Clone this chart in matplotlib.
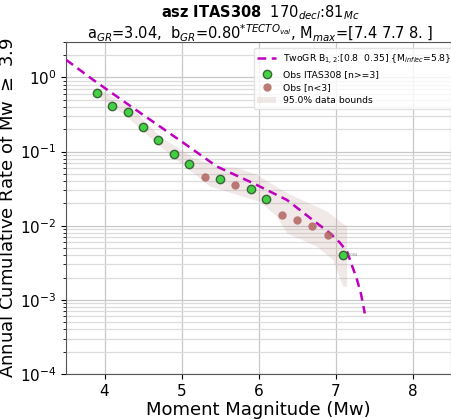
import numpy as np
import matplotlib
matplotlib.use('Agg')
import matplotlib.pyplot as plt

###########################################################
###              Data
###########################################################
mag_obs = [3.9, 4.1, 4.3, 4.5, 4.7, 4.9, 5.1, 5.3, 5.5, 5.7, 5.9, 6.1,
           6.3, 6.5, 6.7, 6.9, 7.1]
rate_obs = [0.615, 0.415, 0.340, 0.211, 0.145, 0.093, 0.0676, 0.0448,
            0.0424, 0.0358, 0.0313, 0.0228, 0.0141, 0.0121, 0.0098,
            0.00755, 0.00406]
n_obs = [25, 17, 14, 9, 6, 4, 3, 2, 3, 2, 3, 3, 1, 1, 1, 1, 3]  # events per bin

# TwoGR model curve
mag_model = [3.5, 3.85, 4.33, 5.02, 5.46, 5.93, 6.37, 6.67, 6.93, 7.05,
             7.15, 7.28, 7.33, 7.38]
rate_model = [1.73, 0.93, 0.415, 0.132, 0.0627, 0.0374, 0.0222, 0.0127,
              0.00789, 0.0060, 0.00446, 0.00185, 0.0012, 0.000655]

# 95% data bounds
mag_upper = [3.90, 4.35, 4.72, 5.15, 5.46, 5.72, 5.98, 6.37, 6.89, 7.15]
rate_upper = [0.719, 0.386, 0.160, 0.0822, 0.0627, 0.0602, 0.0484, 0.0274,
              0.0155, 0.0097]
mag_lower = [3.94, 4.29, 4.72, 5.15, 5.37, 5.59, 6.02, 6.24, 6.37, 6.76,
             6.97, 7.10, 7.15]
rate_lower = [0.527, 0.297, 0.117, 0.0515, 0.0337, 0.0288, 0.0209, 0.0132,
              0.0079, 0.0052, 0.00344, 0.0015, 0.0015]

x_ticks = [4, 5, 6, 7, 8]

###########################################################
###              Plot
###########################################################
mag_obs = np.array(mag_obs)
rate_obs = np.array(rate_obs)
enough = np.array(n_obs) >= 3

fig = plt.figure(figsize=(4.52, 4.19), dpi=100)
ax = fig.add_axes([0.146, 0.1074, 0.852, 0.7924])

poly_x = mag_upper + mag_lower[::-1]
poly_y = rate_upper + rate_lower[::-1]
h_band, = ax.fill(poly_x, poly_y, color='rosybrown', alpha=0.2, lw=0,
                  label='95.0% data bounds', zorder=2)

h_model, = ax.plot(mag_model, rate_model, '--', color='m', lw=1.8,
                   dashes=(3.5, 2.2),
                   label='TwoGR B$_{1,2}$:[0.8  0.35] {M$_{inflec}$=5.8}',
                   zorder=3)

h_ok, = ax.plot(mag_obs[enough], rate_obs[enough], 'o', ms=6,
                mfc='limegreen', mec='#2d5a2d', mew=1.0, alpha=0.9,
                ls='none', label='Obs ITAS308 [n>=3]', zorder=4)
h_few, = ax.plot(mag_obs[~enough], rate_obs[~enough], 'o', ms=6,
                 mfc='#b06560', mec='none', alpha=0.85, ls='none',
                 label='Obs [n<3]', zorder=4)

ax.text(mag_obs[-1] + 0.06, rate_obs[-1], '0.004', fontsize=2.5,
        color='gray', va='center')

ax.set_yscale('log')
ax.set_xlim(3.5, 8.5)
ax.set_ylim(1e-4, 3)
ax.set_xticks(x_ticks)
ax.grid(True, which='major', color='#c8c8c8', lw=0.9)
ax.grid(True, which='minor', axis='y', color='#dcdcdc', lw=0.9)
ax.tick_params(labelsize=11)
for s in ax.spines.values():
    s.set_color('#555555')

ax.set_xlabel('Moment Magnitude (Mw)', fontsize=13, labelpad=2)
ax.set_ylabel(r'Annual Cumulative Rate of Mw $\geq$ 3.9', fontsize=13,
              labelpad=2)

fig.text(0.575, 0.970, r'$\bf{asz\ ITAS308}$  170$_{decl}$:81$_{Mc}$',
         ha='center', va='center', fontsize=10.5)
fig.text(0.575, 0.920,
         r'a$_{GR}$=3.04,  b$_{GR}$=0.80$^{*TECTO_{val}}$, M$_{max}$=[7.4 7.7 8. ]',
         ha='center', va='center', fontsize=10.5)

leg = ax.legend(handles=[h_model, h_ok, h_few, h_band], loc='upper left',
                bbox_to_anchor=(0.48, 0.99), fontsize=6.7, framealpha=0.8,
                borderaxespad=0.3, handlelength=2.0, labelspacing=0.45)
leg.get_frame().set_edgecolor('#dddddd')

fig.savefig('out.png', dpi=100)
